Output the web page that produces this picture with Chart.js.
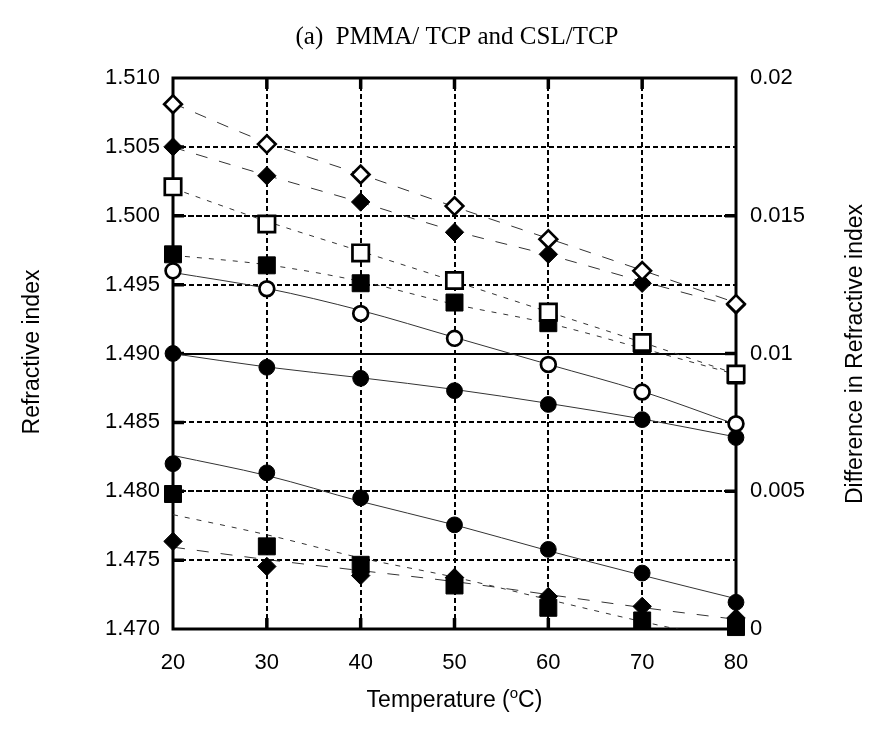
<!DOCTYPE html>
<html>
<head>
<meta charset="utf-8">
<script src="https://cdn.jsdelivr.net/npm/chart.js@4.4.1/dist/chart.umd.min.js"></script>
<style>
  html, body { margin: 0; padding: 0; background: #ffffff; }
  #wrap { width: 879px; height: 731px; position: relative; }
</style>
</head>
<body>
<div id="wrap"><canvas id="c" width="879" height="731"></canvas></div>
<script>
// ---------- data ----------
const temperatures = [20, 30, 40, 50, 60, 70, 80];

// refractive index (left axis) - measured points
const openDiamond   = [1.5081, 1.5052, 1.5030, 1.5007, 1.4983, 1.4960, 1.4936];
const filledDiamond = [1.5050, 1.5029, 1.5010, 1.4988, 1.4972, 1.4951, 1.4935];
const openSquare    = [1.5021, 1.4994, 1.4973, 1.4953, 1.4930, 1.4908, 1.4885];
const filledSquare  = [1.4972, 1.4964, 1.4951, 1.4937, 1.4922, 1.4906, 1.4884];
const openCircle    = [1.4960, 1.4947, 1.4929, 1.4911, 1.4892, 1.4872, 1.4849];
const filledCircle  = [1.4900, 1.4890, 1.4882, 1.4873, 1.4863, 1.4852, 1.4839];

// difference in refractive index (right axis) - measured points
const diffCircle  = [0.00600, 0.00567, 0.00476, 0.00378, 0.00289, 0.00203, 0.00097];
const diffSquare  = [0.00490, 0.00300, 0.00233, 0.00158, 0.00077, 0.00031, 0.00007];
const diffDiamond = [0.00318, 0.00227, 0.00194, 0.00187, 0.00118, 0.00082, 0.00040];

// fitted curves as drawn in the picture (read at each temperature)
const fitOpenDiamond   = [1.50816, 1.50531, 1.50301, 1.50065, 1.49835, 1.49604, 1.49368];
const fitFilledDiamond = [1.50497, 1.50293, 1.50097, 1.49890, 1.49716, 1.49524, 1.49339];
const fitOpenSquare    = [1.50199, 1.49959, 1.49742, 1.49524, 1.49302, 1.49081, 1.48852];
const fitFilledSquare  = [1.49713, 1.49644, 1.49524, 1.49357, 1.49219, 1.49037, 1.48848];
const fitOpenCircle    = [1.49588, 1.49473, 1.49313, 1.49117, 1.48921, 1.48725, 1.48485];
const fitFilledCircle  = [1.48999, 1.48902, 1.48824, 1.48739, 1.48638, 1.48525, 1.48394];
const fitDiffCircle    = [0.00630, 0.00557, 0.00463, 0.00378, 0.00284, 0.00195, 0.00110];
const fitDiffSquare    = [0.00415, 0.00342, 0.00258, 0.00188, 0.00107, 0.00027, -0.00045];
const fitDiffDiamond   = [0.00297, 0.00252, 0.00212, 0.00172, 0.00125, 0.00078, 0.00035];

// axis ticks and texts
const xTicks = [20, 30, 40, 50, 60, 70, 80];
const leftTicks = [1.470, 1.475, 1.480, 1.485, 1.490, 1.495, 1.500, 1.505, 1.510];
const rightTicks = [0, 0.005, 0.01, 0.015, 0.02];
const chartTitle = '(a)  PMMA/ TCP and CSL/TCP';
const xTitleParts = ['Temperature (', 'o', 'C)'];
const yTitle = 'Refractive index';
const y2Title = 'Difference in Refractive index';

// ---------- helpers ----------
const pts = (ys) => temperatures.map((t, i) => ({ x: t, y: ys[i] }));
const LINE = '#333333';
const LONG = [12, 12];
const SHORT = [5, 7];

function markers(label, ys, style, open, axis, radius, order) {
  return {
    label, data: pts(ys), yAxisID: axis, showLine: false,
    pointStyle: style, pointRadius: radius, pointHoverRadius: radius,
    pointBackgroundColor: open ? '#ffffff' : '#000000',
    pointBorderColor: '#000000', pointBorderWidth: open ? 2.7 : 1,
    clip: false, order
  };
}
function fit(label, ys, dash, axis) {
  return {
    label, data: pts(ys), yAxisID: axis, showLine: true,
    borderColor: LINE, borderWidth: 1, borderDash: dash,
    pointRadius: 0, pointHoverRadius: 0, fill: false,
    cubicInterpolationMode: 'monotone', order: 100
  };
}

const datasets = [
  fit('fit open diamond', fitOpenDiamond, LONG, 'y'),
  fit('fit filled diamond', fitFilledDiamond, LONG, 'y'),
  fit('fit open square', fitOpenSquare, SHORT, 'y'),
  fit('fit filled square', fitFilledSquare, SHORT, 'y'),
  fit('fit open circle', fitOpenCircle, [], 'y'),
  fit('fit filled circle', fitFilledCircle, [], 'y'),
  fit('fit diff circle', fitDiffCircle, [], 'y2'),
  fit('fit diff square', fitDiffSquare, SHORT, 'y2'),
  fit('fit diff diamond', fitDiffDiamond, LONG, 'y2'),
  markers('filled diamond', filledDiamond, 'rectRot', false, 'y', 9.2, 20),
  markers('filled square', filledSquare, 'rect', false, 'y', 12, 20),
  markers('filled circle', filledCircle, 'circle', false, 'y', 7.9, 20),
  markers('diff circle', diffCircle, 'circle', false, 'y2', 7.9, 20),
  markers('diff square', diffSquare, 'rect', false, 'y2', 12, 21),
  markers('diff diamond', diffDiamond, 'rectRot', false, 'y2', 9.2, 20),
  markers('open diamond', openDiamond, 'rectRot', true, 'y', 8.8, 1),
  markers('open square', openSquare, 'rect', true, 'y', 11.6, 1),
  markers('open circle', openCircle, 'circle', true, 'y', 7.4, 1)
];

// ---------- plugins ----------
const framePlugin = {
  id: 'frame',
  beforeDatasetsDraw(chart) {
    const { ctx, chartArea: a, scales } = chart;
    ctx.save();
    ctx.setLineDash([]);
    ctx.strokeStyle = '#000';
    ctx.lineWidth = 3;
    ctx.strokeRect(a.left, a.top, a.right - a.left, a.bottom - a.top);
    ctx.lineWidth = 3.5;
    const L = 11;
    ctx.beginPath();
    scales.x.ticks.forEach(t => {
      const p = scales.x.getPixelForValue(t.value);
      if (p > a.left + 3 && p < a.right - 3) {
        ctx.moveTo(p, a.top); ctx.lineTo(p, a.top + L);
        ctx.moveTo(p, a.bottom); ctx.lineTo(p, a.bottom - L);
      }
    });
    scales.y.ticks.forEach(t => {
      const p = scales.y.getPixelForValue(t.value);
      if (p > a.top + 3 && p < a.bottom - 3) { ctx.moveTo(a.left, p); ctx.lineTo(a.left + L, p); }
    });
    scales.y2.ticks.forEach(t => {
      const p = scales.y2.getPixelForValue(t.value);
      if (p > a.top + 3 && p < a.bottom - 3) { ctx.moveTo(a.right, p); ctx.lineTo(a.right - L, p); }
    });
    ctx.stroke();
    ctx.restore();
  }
};

const titlesPlugin = {
  id: 'titles',
  afterDraw(chart) {
    const { ctx, chartArea: a } = chart;
    ctx.save();
    ctx.fillStyle = '#000';
    // chart title
    ctx.font = '25px "Liberation Serif", "Times New Roman", serif';
    ctx.textAlign = 'center';
    ctx.textBaseline = 'middle';
    ctx.fillText(chartTitle, 457, 37);
    // x title with superscript
    const big = '23px "Liberation Sans", Arial, sans-serif';
    const small = '15px "Liberation Sans", Arial, sans-serif';
    ctx.textAlign = 'left';
    ctx.textBaseline = 'alphabetic';
    ctx.font = big; const w1 = ctx.measureText(xTitleParts[0]).width;
    const w3 = ctx.measureText(xTitleParts[2]).width;
    ctx.font = small; const w2 = ctx.measureText(xTitleParts[1]).width;
    const total = w1 + w2 + w3;
    let x0 = (a.left + a.right) / 2 - total / 2;
    const base = 707;
    ctx.font = big; ctx.fillText(xTitleParts[0], x0, base);
    ctx.font = small; ctx.fillText(xTitleParts[1], x0 + w1, base - 9);
    ctx.font = big; ctx.fillText(xTitleParts[2], x0 + w1 + w2, base);
    // left title
    ctx.font = big;
    ctx.textAlign = 'center';
    ctx.textBaseline = 'middle';
    ctx.save();
    ctx.translate(33, 352);
    ctx.rotate(-Math.PI / 2);
    ctx.fillText(yTitle, 0, 0);
    ctx.restore();
    // right title (reads bottom to top)
    ctx.save();
    ctx.translate(856, 354);
    ctx.rotate(-Math.PI / 2);
    ctx.fillText(y2Title, 0, 0);
    ctx.restore();
    ctx.restore();
  }
};

// ---------- chart ----------
const tickFont = { family: '"Liberation Sans", Arial, sans-serif', size: 22 };
new Chart(document.getElementById('c'), {
  type: 'line',
  data: { datasets },
  options: {
    responsive: false,
    animation: false,
    devicePixelRatio: 1,
    layout: { padding: { top: 78, left: 0, right: 0, bottom: 0 } },
    plugins: { legend: { display: false }, tooltip: { enabled: false }, title: { display: false } },
    scales: {
      x: {
        type: 'linear', position: 'bottom', min: 20, max: 80,
        afterBuildTicks: s => { s.ticks = xTicks.map(v => ({ value: v })); },
        afterFit: s => { s.height = 102; },
        ticks: { color: '#000', font: tickFont, padding: 21, maxRotation: 0, callback: v => String(v) },
        grid: {
          drawTicks: false, lineWidth: 2,
          color: c => (c.tick && (c.tick.value === 20 || c.tick.value === 80)) ? 'rgba(0,0,0,0)' : '#000'
        },
        border: { display: false, dash: [5, 3] }
      },
      y: {
        type: 'linear', position: 'left', min: 1.470, max: 1.510,
        afterBuildTicks: s => { s.ticks = leftTicks.map(v => ({ value: v })); },
        afterFit: s => { s.width = 173; },
        ticks: { color: '#000', font: tickFont, padding: 13, callback: v => Number(v).toFixed(3) },
        grid: {
          drawTicks: false, lineWidth: 2,
          color: c => (c.tick && (c.tick.value === 1.470 || c.tick.value === 1.510)) ? 'rgba(0,0,0,0)' : '#000'
        },
        border: { display: false, dash: [5, 3] }
      },
      y2: {
        type: 'linear', position: 'right', min: 0, max: 0.02,
        afterBuildTicks: s => { s.ticks = rightTicks.map(v => ({ value: v })); },
        afterFit: s => { s.width = 143; },
        ticks: { color: '#000', font: tickFont, padding: 14, callback: v => String(v) },
        grid: {
          drawTicks: false, lineWidth: 2,
          color: c => (c.tick && (c.tick.value === 0 || c.tick.value === 0.02)) ? 'rgba(0,0,0,0)' : '#000'
        },
        border: {
          display: false,
          dash: c => (c.tick && c.tick.value === 0.01) ? [] : [5, 3],
          dashOffset: 1
        }
      }
    }
  },
  plugins: [framePlugin, titlesPlugin]
});
</script>
</body>
</html>
